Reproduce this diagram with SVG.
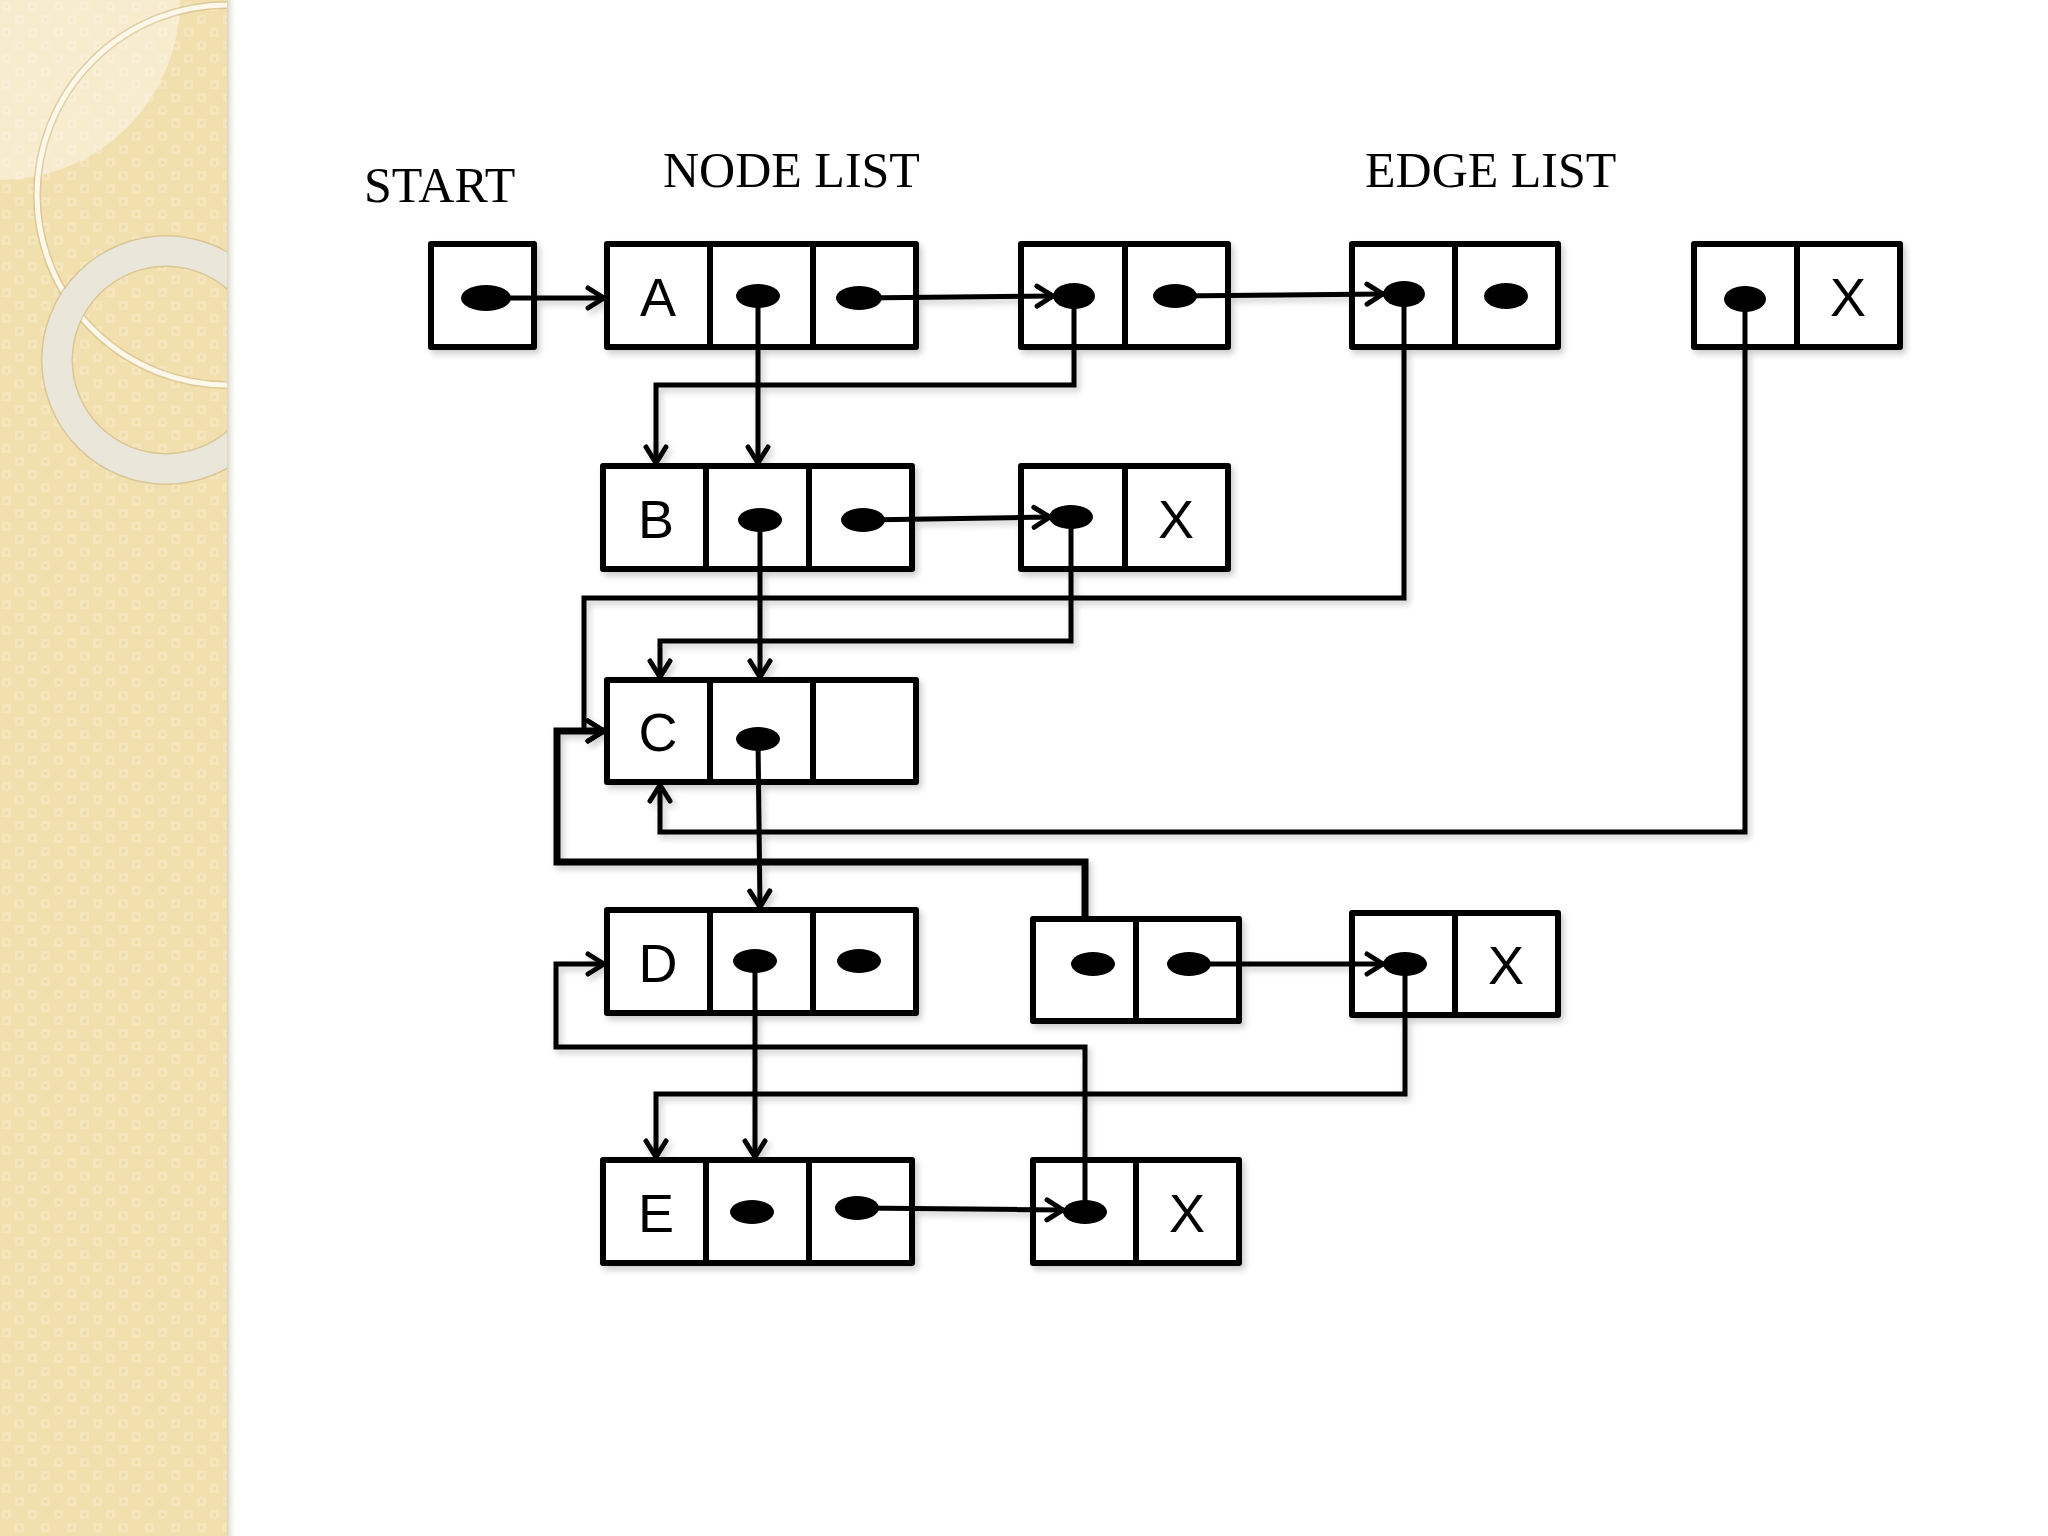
<svg xmlns="http://www.w3.org/2000/svg" width="2048" height="1536" viewBox="0 0 2048 1536">
<defs>
<style>
.box{fill:#fff;stroke:#000;stroke-width:6;stroke-linejoin:round}
.div{stroke:#000;stroke-width:6}
.dot{fill:#000}
.lbl{font-family:"Liberation Sans",Arial,sans-serif;font-size:54px;fill:#000;text-anchor:middle}
.ttl{font-family:"Liberation Serif","Times New Roman",serif;font-size:50px;fill:#000}
.con{fill:none;stroke:#000;stroke-width:5;stroke-linejoin:miter;marker-end:url(#arr)}
.thick{stroke-width:7}
</style>
<marker id="arr" viewBox="0 0 22 26" refX="20" refY="13" markerWidth="22" markerHeight="26" markerUnits="userSpaceOnUse" orient="auto">
<path d="M3,3 L19,13 L3,23" fill="none" stroke="#000" stroke-width="5" stroke-linecap="round" stroke-linejoin="round"/>
</marker>
<filter id="sh" x="-5%" y="-5%" width="110%" height="110%">
<feDropShadow dx="3" dy="4" stdDeviation="3" flood-color="#000" flood-opacity="0.2"/>
</filter>
<pattern id="tex" width="26" height="26" patternUnits="userSpaceOnUse">
<rect width="26" height="26" fill="#f2dfae"/>
<rect x="2" y="2" width="9" height="9" fill="#f5e5bc"/>
<rect x="15" y="15" width="9" height="9" fill="#f5e5bc"/>
<rect x="5" y="5" width="3" height="3" fill="#efdaa8"/>
<rect x="18" y="18" width="3" height="3" fill="#efdaa8"/>
</pattern>
<linearGradient id="edge" x1="0" y1="0" x2="1" y2="0">
<stop offset="0" stop-color="#d9d2c0"/>
<stop offset="1" stop-color="#ffffff" stop-opacity="0"/>
</linearGradient>
<clipPath id="panelClip"><rect x="0" y="0" width="227" height="1536"/></clipPath>
</defs>

<rect x="0" y="0" width="2048" height="1536" fill="#fff"/>
<g id="panel">
<rect x="0" y="0" width="227" height="1536" fill="url(#tex)"/>
<g clip-path="url(#panelClip)">
<circle cx="0" cy="0" r="180" fill="#fff" fill-opacity="0.4"/>
<circle cx="227" cy="195" r="190" fill="none" stroke="#c9b27c" stroke-width="8" stroke-opacity="0.5"/>
<circle cx="227" cy="195" r="190" fill="none" stroke="#fdf8ea" stroke-width="5"/>
<circle cx="166" cy="360" r="109" fill="none" stroke="#c8b584" stroke-width="32" stroke-opacity="0.6"/>
<circle cx="166" cy="360" r="109" fill="none" stroke="#ebe6da" stroke-width="29"/>
</g>
<rect x="227" y="0" width="10" height="1536" fill="url(#edge)"/>
</g>

<g id="titles">
<text class="ttl" x="364" y="202">START</text>
<text class="ttl" x="663" y="187">NODE LIST</text>
<text class="ttl" x="1365" y="187">EDGE LIST</text>
</g>

<g filter="url(#sh)">
<g id="start">
<rect class="box" x="431" y="244" width="103" height="103"/>
<ellipse class="dot" cx="486" cy="298" rx="25" ry="13"/>
</g>
<g id="nodeA">
<rect class="box" x="607" y="244" width="309" height="103"/>
<line class="div" x1="710" y1="244" x2="710" y2="347"/>
<line class="div" x1="813" y1="244" x2="813" y2="347"/>
<text class="lbl" x="658" y="316">A</text>
<ellipse class="dot" cx="758" cy="296" rx="22" ry="12"/>
<ellipse class="dot" cx="859" cy="298" rx="23" ry="12"/>
</g>
<g id="edgeA1">
<rect class="box" x="1021" y="244" width="207" height="103"/>
<line class="div" x1="1125" y1="244" x2="1125" y2="347"/>
<ellipse class="dot" cx="1074" cy="296" rx="21" ry="13"/>
<ellipse class="dot" cx="1175" cy="296" rx="22" ry="12"/>
</g>
<g id="edgeA2">
<rect class="box" x="1352" y="244" width="206" height="103"/>
<line class="div" x1="1455" y1="244" x2="1455" y2="347"/>
<ellipse class="dot" cx="1404" cy="294" rx="21" ry="13"/>
<ellipse class="dot" cx="1506" cy="296" rx="22" ry="13"/>
</g>
<g id="edgeA3">
<rect class="box" x="1694" y="244" width="206" height="103"/>
<line class="div" x1="1797" y1="244" x2="1797" y2="347"/>
<ellipse class="dot" cx="1745" cy="299" rx="21" ry="13"/>
<text class="lbl" x="1848" y="316">X</text>
</g>
<g id="nodeB">
<rect class="box" x="603" y="466" width="309" height="103"/>
<line class="div" x1="706" y1="466" x2="706" y2="569"/>
<line class="div" x1="809" y1="466" x2="809" y2="569"/>
<text class="lbl" x="656" y="538">B</text>
<ellipse class="dot" cx="760" cy="520" rx="22" ry="12"/>
<ellipse class="dot" cx="863" cy="520" rx="22" ry="12"/>
</g>
<g id="edgeB1">
<rect class="box" x="1021" y="466" width="207" height="103"/>
<line class="div" x1="1125" y1="466" x2="1125" y2="569"/>
<ellipse class="dot" cx="1071" cy="517" rx="22" ry="12"/>
<text class="lbl" x="1176" y="538">X</text>
</g>
<g id="nodeC">
<rect class="box" x="607" y="680" width="309" height="102"/>
<line class="div" x1="710" y1="680" x2="710" y2="782"/>
<line class="div" x1="813" y1="680" x2="813" y2="782"/>
<text class="lbl" x="658" y="751">C</text>
<ellipse class="dot" cx="758" cy="739" rx="22" ry="12"/>
</g>
<g id="nodeD">
<rect class="box" x="607" y="910" width="309" height="103"/>
<line class="div" x1="710" y1="910" x2="710" y2="1013"/>
<line class="div" x1="813" y1="910" x2="813" y2="1013"/>
<text class="lbl" x="658" y="982">D</text>
<ellipse class="dot" cx="755" cy="961" rx="22" ry="12"/>
<ellipse class="dot" cx="859" cy="961" rx="22" ry="12"/>
</g>
<g id="edgeD1">
<rect class="box" x="1033" y="919" width="206" height="102"/>
<line class="div" x1="1136" y1="919" x2="1136" y2="1021"/>
<ellipse class="dot" cx="1093" cy="964" rx="22" ry="12"/>
<ellipse class="dot" cx="1189" cy="964" rx="22" ry="12"/>
</g>
<g id="edgeD2">
<rect class="box" x="1352" y="913" width="206" height="102"/>
<line class="div" x1="1455" y1="913" x2="1455" y2="1015"/>
<ellipse class="dot" cx="1405" cy="964" rx="22" ry="12"/>
<text class="lbl" x="1506" y="984">X</text>
</g>
<g id="nodeE">
<rect class="box" x="603" y="1160" width="309" height="103"/>
<line class="div" x1="706" y1="1160" x2="706" y2="1263"/>
<line class="div" x1="809" y1="1160" x2="809" y2="1263"/>
<text class="lbl" x="656" y="1232">E</text>
<ellipse class="dot" cx="752" cy="1212" rx="22" ry="12"/>
<ellipse class="dot" cx="857" cy="1208" rx="22" ry="12"/>
</g>
<g id="edgeE1">
<rect class="box" x="1033" y="1160" width="206" height="103"/>
<line class="div" x1="1136" y1="1160" x2="1136" y2="1263"/>
<ellipse class="dot" cx="1085" cy="1212" rx="22" ry="12"/>
<text class="lbl" x="1187" y="1232">X</text>
</g>

<g id="connectors">
<path class="con" d="M486,298 L605,298"/>
<path class="con" d="M859,298 L1054,296"/>
<path class="con" d="M1175,296 L1384,294"/>
<path class="con" d="M758,296 L758,464"/>
<path class="con" d="M1074,296 L1074,385 L656,385 L656,464"/>
<path class="con" d="M863,520 L1051,517"/>
<path class="con" d="M760,520 L760,678"/>
<path class="con" d="M1071,517 L1071,641 L660,641 L660,678"/>
<path class="con" d="M1404,294 L1404,598 L584,598 L584,731 L605,731"/>
<path class="con thick" d="M1085,919 L1085,862 L557,862 L557,731 L605,731"/>
<path class="con" d="M1745,299 L1745,832 L660,832 L660,784"/>
<path class="con" d="M758,739 L760,908"/>
<path class="con" d="M755,961 L755,1158"/>
<path class="con" d="M1405,964 L1405,1094 L656,1094 L656,1158"/>
<path class="con" d="M1085,1212 L1085,1047 L556,1047 L556,964 L605,964"/>
<path class="con" d="M857,1208 L1064,1210"/>
<path class="con" d="M1189,964 L1384,964"/>
</g>
</g>
</svg>
